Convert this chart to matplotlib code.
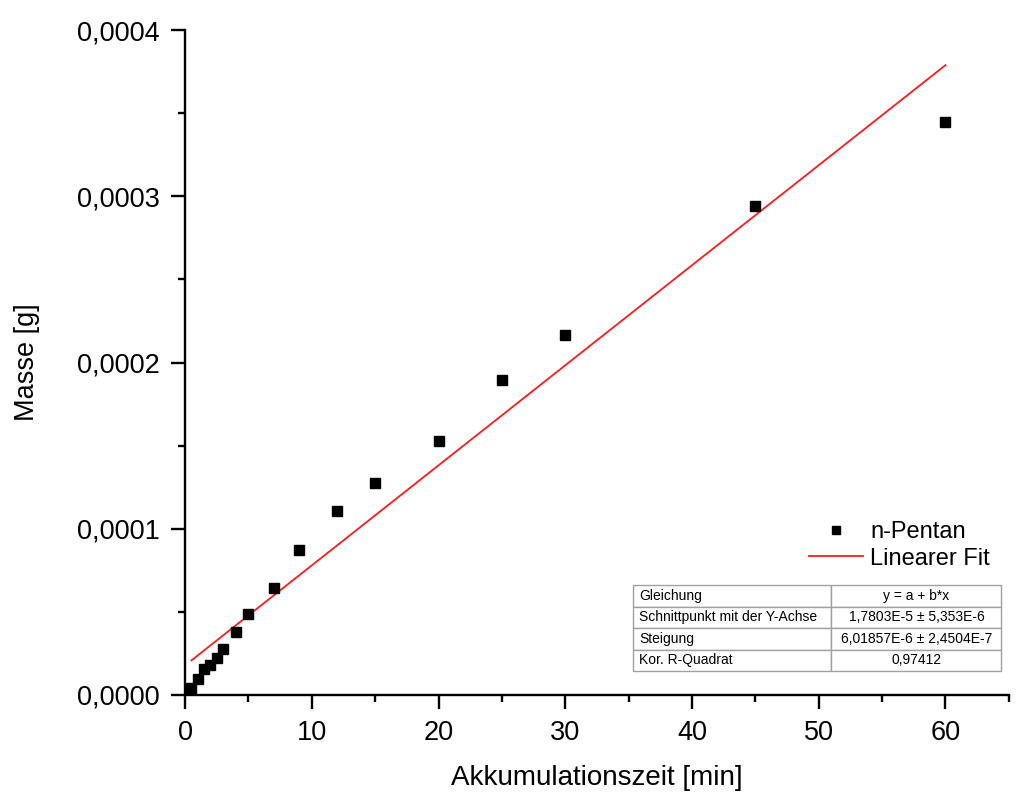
import matplotlib
matplotlib.use("Agg")
import matplotlib.pyplot as plt
from matplotlib.ticker import MultipleLocator, FuncFormatter
from matplotlib.table import Table

plt.rcParams['font.family'] = ['Liberation Sans', 'DejaVu Sans']

# accumulation time [min] and mass [g] of n-pentane
zeit = [0.5, 1, 1.5, 2, 2.5, 3, 4, 5, 7, 9, 12, 15, 20, 25, 30, 45, 60]
masse = [4.3e-6, 9.5e-6, 1.56e-5, 1.82e-5, 2.22e-5, 2.78e-5, 3.76e-5, 4.88e-5,
         6.46e-5, 8.72e-5, 1.107e-4, 1.275e-4, 1.528e-4, 1.895e-4, 2.165e-4,
         2.941e-4, 3.447e-4]

# linear fit parameters (from the fit table)
achsenabschnitt = 1.7803e-5
steigung = 6.01857e-6
fit_x = [0.5, 60]
fit_y = [achsenabschnitt + steigung * x for x in fit_x]

tabelle = [["Gleichung", "y = a + b*x"],
           ["Schnittpunkt mit der Y-Achse", "1,7803E-5 \u00b1 5,353E-6"],
           ["Steigung", "6,01857E-6 \u00b1 2,4504E-7"],
           ["Kor. R-Quadrat", "0,97412"]]

fig = plt.figure(figsize=(10.17, 7.92), dpi=100)
ax = fig.add_axes([0.182, 0.1225, 0.810, 0.8395])

ax.plot(zeit, masse, 's', color='black', markersize=6.5, clip_on=False,
        label='n-Pentan', zorder=3)
ax.plot(fit_x, fit_y, color='#ff1a1a', linewidth=1.3, label='Linearer Fit')

ax.set_xlim(0, 65)
ax.set_ylim(0, 0.0004)

ax.spines['top'].set_visible(False)
ax.spines['right'].set_visible(False)
ax.spines['left'].set_linewidth(1.7)
ax.spines['bottom'].set_linewidth(1.7)

ax.xaxis.set_major_locator(MultipleLocator(10))
ax.xaxis.set_minor_locator(MultipleLocator(5))
ax.yaxis.set_major_locator(MultipleLocator(0.0001))
ax.yaxis.set_minor_locator(MultipleLocator(0.00005))
ax.yaxis.set_major_formatter(FuncFormatter(lambda v, p: f"{v:.4f}".replace('.', ',')))

ax.tick_params(which='major', direction='out', length=10, width=1.7,
               labelsize=19.5, pad=8)
ax.tick_params(which='minor', direction='out', length=5, width=1.7)

ax.set_xlabel("Akkumulationszeit [min]", fontsize=20, labelpad=14)
ax.set_ylabel("Masse [g]", fontsize=19.5, labelpad=27)

ax.legend(loc='upper right', bbox_to_anchor=(0.977, 0.262), frameon=False,
          fontsize=17, handlelength=2.3, handletextpad=0.3, labelspacing=0.2,
          borderpad=0, borderaxespad=0, markerscale=0.8)

# fit result table
tab = Table(ax, bbox=[0.544, 0.036, 0.447, 0.129])
breiten = [0.538, 0.462]
for r, zeile in enumerate(tabelle):
    for c, text in enumerate(zeile):
        zelle = tab.add_cell(r, c, width=breiten[c], height=0.25, text=text,
                             loc='left' if c == 0 else 'center',
                             edgecolor='#a0a0a0', facecolor='white')
        zelle.get_text().set_fontsize(10)
        zelle.PAD = 0.03
tab.auto_set_font_size(False)
ax.add_table(tab)

fig.savefig("out.png", dpi=100)
